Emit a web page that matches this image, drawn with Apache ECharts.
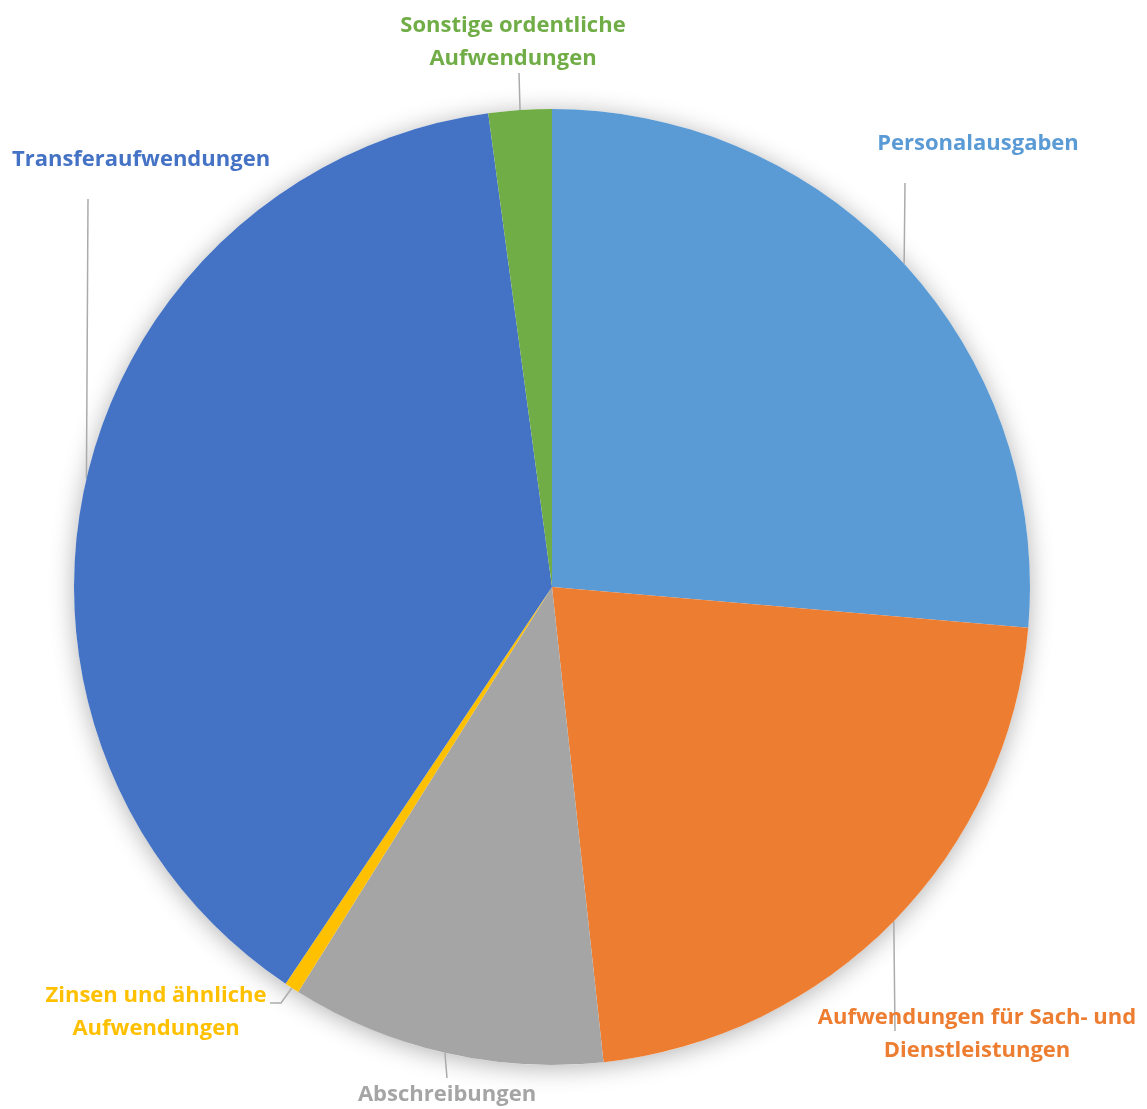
<!DOCTYPE html>
<html><head><meta charset="utf-8">
<script src="https://cdn.jsdelivr.net/npm/echarts/dist/echarts.min.js"></script>
<style>html,body{margin:0;padding:0;background:#fff}#c{width:1147px;height:1109px}</style>
</head><body><div id="c"></div>
<script>
// ---- data ----
const categories = ['Personalausgaben', 'Aufwendungen für Sach- und Dienstleistungen', 'Abschreibungen', 'Zinsen und ähnliche Aufwendungen', 'Transferaufwendungen', 'Sonstige ordentliche Aufwendungen'];
const values = [26.36, 21.92, 10.63, 0.5, 38.46, 2.13];
const labelTexts = ['Personalausgaben', 'Aufwendungen für Sach- und\nDienstleistungen', 'Abschreibungen', 'Zinsen und ähnliche\nAufwendungen', 'Transferaufwendungen', 'Sonstige ordentliche\nAufwendungen'];
const colors = ['#5B9BD5', '#ED7D31', '#A5A5A5', '#FFC000', '#4472C4', '#70AD47'];

// ---- layout ----
const CX = 552, CY = 587, R = 478;
// label centre and leader line bend points (px)
const labelPos = [
  { x: 978, y: 144, line: [[905, 183]] },
  { x: 977, y: 1034, line: [[895, 1031]] },
  { x: 447, y: 1095, line: [[447, 1078]] },
  { x: 156, y: 1012, line: [[281, 1003], [270, 1003]] },
  { x: 141, y: 160, line: [[88, 199]] },
  { x: 513, y: 42, line: [[519, 73]] }
];

const total = values.reduce((a, b) => a + b, 0);
const midAngles = [];
{ let acc = 0; values.forEach(v => { midAngles.push((acc + v / 2) / total * 2 * Math.PI); acc += v; }); }
function edgePoint(i) {
  const a = midAngles[i];
  return [CX + R * Math.sin(a), CY - R * Math.cos(a)];
}

const chart = echarts.init(document.getElementById('c'), null, { renderer: 'canvas' });
const FONT = '"Open Sans", Lato, sans-serif';
chart.setOption({
  backgroundColor: '#ffffff',
  animation: false,
  series: [
    {
      type: 'pie', silent: true, center: [CX, CY], radius: R, z: 1,
      label: { show: false }, labelLine: { show: false },
      itemStyle: { color: '#ffffff', shadowBlur: 24, shadowOffsetY: 3, shadowColor: 'rgba(0,0,0,0.3)' },
      data: [{ value: 1, name: 'bg' }]
    },
    {
      type: 'pie', z: 2,
      center: [CX, CY], radius: R,
      startAngle: 90, clockwise: true,
      avoidLabelOverlap: false,
      itemStyle: { borderWidth: 0 },
      label: {
        show: true, position: 'outside',
        fontFamily: FONT, fontWeight: 'bold', fontSize: 22, lineHeight: 33,
        align: 'center',
        formatter: p => labelTexts[p.dataIndex]
      },
      labelLine: { show: true, length: 10, length2: 10, lineStyle: { color: '#ABABAB', width: 1.5 } },
      labelLayout: function (params) {
        const i = params.dataIndex;
        const lp = labelPos[i];
        const pts = [edgePoint(i)].concat(lp.line);
        if (pts.length === 2) pts.push(lp.line[0]);
        return { x: lp.x, y: lp.y, align: 'center', verticalAlign: 'middle', labelLinePoints: pts };
      },
      data: categories.map((c, i) => ({
        name: c, value: values[i],
        itemStyle: { color: colors[i] },
        label: { color: colors[i] }
      }))
    }
  ]
});
</script>
</body></html>
